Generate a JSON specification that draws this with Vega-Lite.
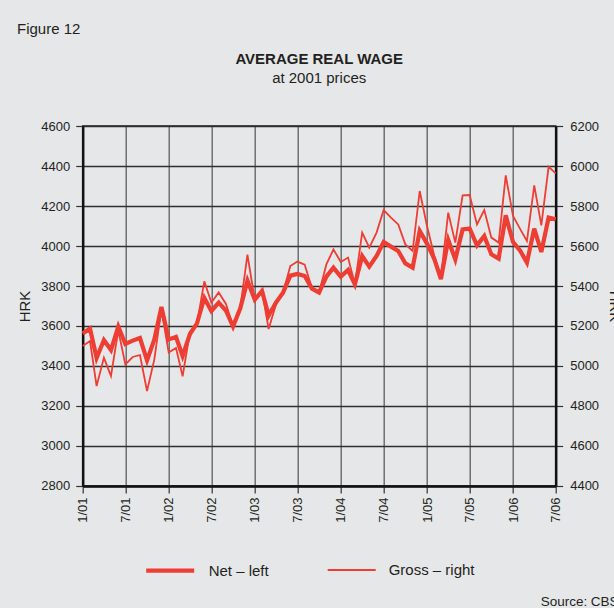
{
  "$schema": "https://vega.github.io/schema/vega-lite/v6.json",
  "background": "#e6e7e9",
  "padding": {"left": 16.7, "top": 22, "right": 0, "bottom": 0},
  "config": {
    "font": "Liberation Sans",
    "view": {"stroke": null},
    "axis": {"labelFont": "Liberation Sans", "titleFont": "Liberation Sans", "labelColor": "#231f20", "titleColor": "#231f20"},
    "title": {"font": "Liberation Sans", "color": "#231f20"}
  },
  "title": {"text": "Figure 12", "anchor": "start", "frame": "bounds", "fontSize": 15, "fontWeight": "normal", "offset": 14},
  "vconcat": [
    {
      "title": {"text": "Source: CBS.", "orient": "bottom", "anchor": "end", "frame": "bounds", "fontSize": 13.5, "fontWeight": "normal", "offset": 72},
      "vconcat": [
        {
          "title": {"text": "AVERAGE REAL WAGE", "subtitle": "at 2001 prices", "anchor": "middle", "frame": "group", "fontSize": 15, "fontWeight": "bold", "subtitleFontSize": 15, "subtitleFont": "Liberation Sans", "subtitleColor": "#231f20", "subtitlePadding": 4, "offset": 34},
          "width": 473,
          "height": 360,
          "view": {"stroke": "#1a1a1a", "strokeWidth": 1.5},
          "data": {"values": [
            {"date": "2001-01-01", "net": 3562, "gross": 5100},
            {"date": "2001-02-01", "net": 3587, "gross": 5125},
            {"date": "2001-03-01", "net": 3440, "gross": 4900},
            {"date": "2001-04-01", "net": 3530, "gross": 5042},
            {"date": "2001-05-01", "net": 3480, "gross": 4950},
            {"date": "2001-06-01", "net": 3598, "gross": 5178},
            {"date": "2001-07-01", "net": 3510, "gross": 5008},
            {"date": "2001-08-01", "net": 3527, "gross": 5045},
            {"date": "2001-09-01", "net": 3540, "gross": 5055},
            {"date": "2001-10-01", "net": 3428, "gross": 4875},
            {"date": "2001-11-01", "net": 3533, "gross": 5033},
            {"date": "2001-12-01", "net": 3695, "gross": 5283},
            {"date": "2002-01-01", "net": 3533, "gross": 5067},
            {"date": "2002-02-01", "net": 3545, "gross": 5090},
            {"date": "2002-03-01", "net": 3450, "gross": 4948},
            {"date": "2002-04-01", "net": 3560, "gross": 5170},
            {"date": "2002-05-01", "net": 3613, "gross": 5212},
            {"date": "2002-06-01", "net": 3740, "gross": 5423},
            {"date": "2002-07-01", "net": 3675, "gross": 5317},
            {"date": "2002-08-01", "net": 3717, "gross": 5368},
            {"date": "2002-09-01", "net": 3677, "gross": 5310},
            {"date": "2002-10-01", "net": 3597, "gross": 5197},
            {"date": "2002-11-01", "net": 3690, "gross": 5295},
            {"date": "2002-12-01", "net": 3827, "gross": 5557},
            {"date": "2003-01-01", "net": 3732, "gross": 5332},
            {"date": "2003-02-01", "net": 3775, "gross": 5375},
            {"date": "2003-03-01", "net": 3652, "gross": 5185},
            {"date": "2003-04-01", "net": 3717, "gross": 5308},
            {"date": "2003-05-01", "net": 3767, "gross": 5367},
            {"date": "2003-06-01", "net": 3852, "gross": 5500},
            {"date": "2003-07-01", "net": 3860, "gross": 5522},
            {"date": "2003-08-01", "net": 3850, "gross": 5507},
            {"date": "2003-09-01", "net": 3787, "gross": 5387},
            {"date": "2003-10-01", "net": 3767, "gross": 5367},
            {"date": "2003-11-01", "net": 3847, "gross": 5508},
            {"date": "2003-12-01", "net": 3892, "gross": 5583},
            {"date": "2004-01-01", "net": 3847, "gross": 5520},
            {"date": "2004-02-01", "net": 3880, "gross": 5542},
            {"date": "2004-03-01", "net": 3808, "gross": 5408},
            {"date": "2004-04-01", "net": 3950, "gross": 5667},
            {"date": "2004-05-01", "net": 3897, "gross": 5592},
            {"date": "2004-06-01", "net": 3950, "gross": 5667},
            {"date": "2004-07-01", "net": 4020, "gross": 5780},
            {"date": "2004-08-01", "net": 3997, "gross": 5742},
            {"date": "2004-09-01", "net": 3975, "gross": 5708},
            {"date": "2004-10-01", "net": 3913, "gross": 5608},
            {"date": "2004-11-01", "net": 3892, "gross": 5575},
            {"date": "2004-12-01", "net": 4075, "gross": 5875},
            {"date": "2005-01-01", "net": 4012, "gross": 5700},
            {"date": "2005-02-01", "net": 3935, "gross": 5550},
            {"date": "2005-03-01", "net": 3835, "gross": 5442},
            {"date": "2005-04-01", "net": 4030, "gross": 5767},
            {"date": "2005-05-01", "net": 3933, "gross": 5617},
            {"date": "2005-06-01", "net": 4083, "gross": 5853},
            {"date": "2005-07-01", "net": 4087, "gross": 5855},
            {"date": "2005-08-01", "net": 4003, "gross": 5708},
            {"date": "2005-09-01", "net": 4050, "gross": 5780},
            {"date": "2005-10-01", "net": 3958, "gross": 5642},
            {"date": "2005-11-01", "net": 3937, "gross": 5617},
            {"date": "2005-12-01", "net": 4153, "gross": 5953},
            {"date": "2006-01-01", "net": 4020, "gross": 5750},
            {"date": "2006-02-01", "net": 3975, "gross": 5683},
            {"date": "2006-03-01", "net": 3917, "gross": 5625},
            {"date": "2006-04-01", "net": 4087, "gross": 5903},
            {"date": "2006-05-01", "net": 3970, "gross": 5703},
            {"date": "2006-06-01", "net": 4142, "gross": 5997},
            {"date": "2006-07-01", "net": 4133, "gross": 5963}
          ]},
          "transform": [{"fold": ["net", "gross"], "as": ["series", "value"]}],
          "encoding": {
            "x": {
              "field": "date", "type": "temporal",
              "scale": {"type": "utc", "domain": [{"year": 2001, "month": 1, "date": 1, "utc": true}, {"year": 2006, "month": 7, "date": 1, "utc": true}], "nice": false},
              "axis": {
                "title": null,
                "values": [
                  {"year": 2001, "month": 1, "date": 1, "utc": true},
                  {"year": 2001, "month": 7, "date": 1, "utc": true},
                  {"year": 2002, "month": 1, "date": 1, "utc": true},
                  {"year": 2002, "month": 7, "date": 1, "utc": true},
                  {"year": 2003, "month": 1, "date": 1, "utc": true},
                  {"year": 2003, "month": 7, "date": 1, "utc": true},
                  {"year": 2004, "month": 1, "date": 1, "utc": true},
                  {"year": 2004, "month": 7, "date": 1, "utc": true},
                  {"year": 2005, "month": 1, "date": 1, "utc": true},
                  {"year": 2005, "month": 7, "date": 1, "utc": true},
                  {"year": 2006, "month": 1, "date": 1, "utc": true},
                  {"year": 2006, "month": 7, "date": 1, "utc": true}
                ],
                "labelExpr": "utcFormat(datum.value, '%-m/%y')",
                "labelAngle": 270, "labelFontSize": 13, "labelPadding": 4,
                "grid": true, "gridColor": "#5e5e5e", "gridWidth": 1.3,
                "tickSize": 7, "tickColor": "#333", "tickWidth": 1.2,
                "domainColor": "#111", "domainWidth": 2.5
              }
            },
            "color": {
              "field": "series", "type": "nominal",
              "scale": {"domain": ["net", "gross"], "range": ["#ee3d33", "#ee3d33"]},
              "legend": {
                "title": null, "orient": "none", "direction": "horizontal",
                "legendX": 61, "legendY": 418,
                "symbolType": "stroke", "symbolSize": 2304,
                "labelFontSize": 15, "labelColor": "#231f20", "labelFont": "Liberation Sans",
                "labelOffset": 12, "columnPadding": 54, "padding": 0,
                "labelExpr": "datum.label === 'net' ? 'Net – left' : 'Gross – right'"
              }
            },
            "strokeWidth": {
              "field": "series", "type": "nominal",
              "scale": {"domain": ["net", "gross"], "range": [4.2, 1.8]},
              "legend": {
                "title": null, "orient": "none", "direction": "horizontal",
                "legendX": 61, "legendY": 418,
                "symbolType": "stroke", "symbolSize": 2304,
                "labelFontSize": 15, "labelColor": "#231f20", "labelFont": "Liberation Sans",
                "labelOffset": 12, "columnPadding": 54, "padding": 0,
                "labelExpr": "datum.label === 'net' ? 'Net – left' : 'Gross – right'"
              }
            }
          },
          "layer": [
            {
              "transform": [{"filter": "datum.series === 'net'"}],
              "mark": {"type": "line", "strokeJoin": "miter"},
              "encoding": {
                "y": {
                  "field": "value", "type": "quantitative",
                  "scale": {"domain": [2800, 4600], "nice": false, "zero": false},
                  "axis": {
                    "orient": "left", "title": "HRK", "titleFontSize": 15, "titleFontWeight": "normal", "titlePadding": 8,
                    "values": [2800, 3000, 3200, 3400, 3600, 3800, 4000, 4200, 4400, 4600],
                    "format": "d", "labelFontSize": 13, "labelPadding": 6,
                    "grid": true, "gridColor": "#2e2e2e", "gridWidth": 1.3,
                    "tickSize": 7, "tickColor": "#333", "tickWidth": 1.2,
                    "domainColor": "#111", "domainWidth": 2.5
                  }
                }
              }
            },
            {
              "transform": [{"filter": "datum.series === 'gross'"}],
              "mark": {"type": "line", "strokeJoin": "miter"},
              "encoding": {
                "y": {
                  "field": "value", "type": "quantitative",
                  "scale": {"domain": [4400, 6200], "nice": false, "zero": false},
                  "axis": {
                    "orient": "right", "title": "HRK", "titleFontSize": 15, "titleFontWeight": "normal", "titlePadding": 8,
                    "values": [4400, 4600, 4800, 5000, 5200, 5400, 5600, 5800, 6000, 6200],
                    "format": "d", "labelFontSize": 13, "labelPadding": 7,
                    "grid": false,
                    "tickSize": 7, "tickColor": "#333", "tickWidth": 1.2,
                    "domainColor": "#111", "domainWidth": 2.5
                  }
                }
              }
            }
          ],
          "resolve": {"scale": {"y": "independent"}, "axis": {"y": "independent"}}
        }
      ]
    }
  ]
}
